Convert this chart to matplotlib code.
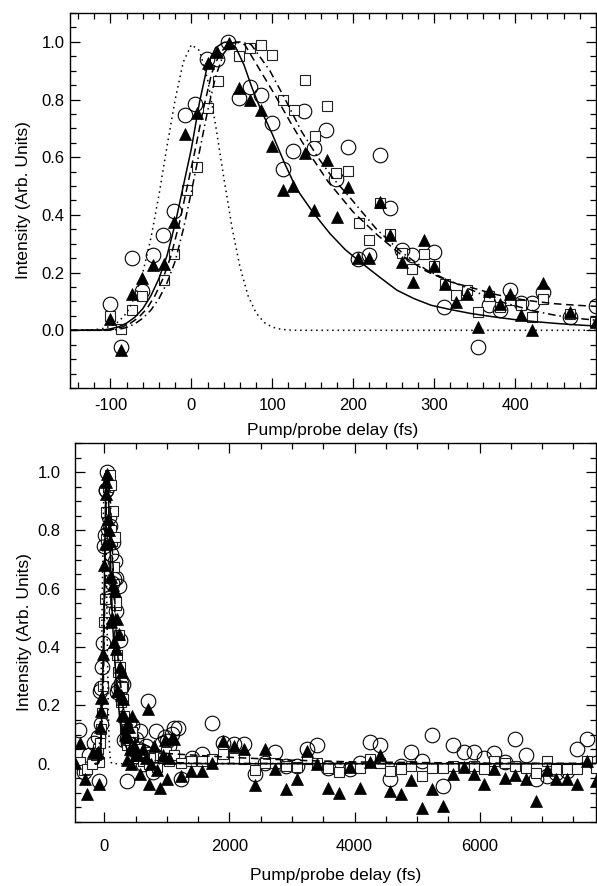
import matplotlib
matplotlib.use('Agg')
import matplotlib.pyplot as plt
from matplotlib.ticker import MultipleLocator

plt.rcParams['font.family'] = ['Liberation Sans', 'DejaVu Sans']
plt.rcParams['font.size'] = 12
plt.rcParams['axes.unicode_minus'] = False

# ---- short-delay scan (top panel, also part of bottom panel) ----
circ_x = [-101, -87, -74, -61, -48, -35, -21, -8, 5, 19, 32, 45, 59, 72, 86, 100,
          113, 126, 139, 152, 166, 179, 193, 206, 220, 233, 246, 260, 273, 300,
          312, 354, 368, 381, 394, 407, 421, 434, 468, 500]
circ_y = [0.09, -0.058, 0.25, 0.135, 0.26, 0.33, 0.415, 0.745, 0.785, 0.94, 0.94, 1.0,
          0.805, 0.845, 0.815, 0.72, 0.56, 0.62, 0.761, 0.632, 0.695, 0.524, 0.637,
          0.246, 0.261, 0.608, 0.423, 0.278, 0.261, 0.272, 0.081, -0.058, 0.087,
          0.07, 0.141, 0.093, 0.093, 0.133, 0.046, 0.083]

sq_x = [-101, -87, -74, -61, -34, -21, -6, 7, 20, 33, 59, 72, 86, 100, 113, 127,
        140, 153, 167, 179, 193, 207, 220, 233, 246, 260, 273, 287, 300, 314, 327,
        341, 354, 368, 381, 394, 407, 421, 434, 468, 499]
sq_y = [0.05, 0.005, 0.07, 0.12, 0.175, 0.265, 0.485, 0.565, 0.77, 0.865, 0.95, 0.98,
        0.99, 0.955, 0.80, 0.765, 0.867, 0.675, 0.776, 0.545, 0.553, 0.373, 0.313,
        0.443, 0.333, 0.267, 0.211, 0.264, 0.222, 0.162, 0.122, 0.139, 0.064, 0.12,
        0.081, 0.104, 0.087, 0.046, 0.107, 0.058, 0.029]

tri_x = [-101, -87, -74, -61, -48, -34, -21, -8, 7, 20, 32, 46, 59, 72, 86, 100,
         113, 126, 140, 152, 167, 180, 194, 206, 220, 233, 246, 260, 274, 288, 300,
         314, 327, 341, 354, 368, 381, 394, 407, 421, 434, 468, 500]
tri_y = [0.04, -0.07, 0.125, 0.18, 0.225, 0.23, 0.375, 0.68, 0.755, 0.925, 0.965,
         0.995, 0.84, 0.80, 0.765, 0.64, 0.485, 0.50, 0.614, 0.417, 0.591, 0.394,
         0.498, 0.249, 0.249, 0.446, 0.330, 0.237, 0.168, 0.313, 0.222, 0.162, 0.098,
         0.127, 0.012, 0.136, 0.09, 0.127, 0.052, 0.0, 0.165, 0.064, 0.029]

# ---- long-delay scan (extra points, bottom panel only) ----
circ_long_x = [-414, -330, -250, -170, 530, 575, 620, 665, 697, 740, 785, 830, 875,
               920, 965, 1003, 1040, 1074, 1110, 1180, 1217, 1394, 1566, 1727, 1903,
               2075, 2236, 2408, 2574, 2735, 2906, 3074, 3238, 3407, 3577, 3751, 3921,
               4079, 4249, 4413, 4571, 4741, 4910, 5085, 5243, 5413, 5577, 5746, 5905,
               6063, 6233, 6407, 6566, 6741, 6899, 7069, 7228, 7397, 7556, 7720, 7862]
circ_long_y = [0.117, -0.03, 0.03, 0.07, 0.05, 0.112, 0.0, 0.06, 0.215, 0.03, -0.03,
               0.112, 0.02, 0.07, 0.09, 0.078, 0.06, 0.101, 0.124, 0.124, -0.054, 0.02,
               0.032, 0.141, 0.072, 0.066, 0.066, -0.037, 0.003, 0.04, -0.008, -0.008,
               0.049, 0.063, -0.014, -0.019, -0.017, 0.003, 0.074, 0.063, -0.054, -0.008,
               0.04, 0.009, 0.097, -0.077, 0.063, 0.04, 0.04, 0.021, 0.038, 0.006, 0.084,
               0.029, -0.054, -0.042, -0.031, -0.025, 0.052, 0.086, 0.003]

sq_long_x = [-472, -391, -330, -273, -200, -140, 530, 575, 620, 665, 710, 755, 800,
             845, 890, 935, 980, 1025, 1070, 1110, 1217, 1389, 1566, 1727, 1903, 2075,
             2236, 2408, 2574, 2735, 2906, 3074, 3238, 3407, 3577, 3751, 3921, 4079,
             4249, 4413, 4571, 4741, 4910, 5085, 5243, 5413, 5577, 5746, 5905, 6063,
             6233, 6407, 6566, 6741, 6899, 7069, 7228, 7397, 7556, 7720, 7862]
sq_long_y = [0.003, 0.005, -0.02, -0.017, 0.0, 0.03, 0.02, 0.05, 0.01, 0.04, 0.0, 0.03,
             0.02, -0.01, 0.03, 0.02, 0.04, 0.01, 0.02, 0.03, 0.003, 0.01, 0.01, 0.015,
             0.032, 0.02, 0.015, -0.02, 0.003, 0.003, -0.008, -0.01, 0.015, 0.003,
             -0.014, -0.029, -0.01, -0.014, 0.015, 0.003, -0.025, -0.017, -0.008, -0.042,
             -0.014, -0.014, -0.008, -0.01, -0.008, -0.019, 0.009, 0.003, -0.008, -0.014,
             -0.031, 0.009, -0.017, -0.019, -0.019, 0.009, -0.014]

tri_long_x = [-472, -391, -311, -273, -190, -123, 530, 575, 620, 665, 697, 720, 750,
              795, 840, 885, 930, 965, 1003, 1040, 1074, 1110, 1217, 1389, 1566, 1727,
              1903, 2075, 2236, 2408, 2574, 2735, 2906, 3074, 3238, 3407, 3577, 3751,
              3921, 4079, 4249, 4413, 4571, 4741, 4910, 5085, 5243, 5413, 5577, 5746,
              5905, 6063, 6233, 6407, 6566, 6741, 6899, 7069, 7228, 7397, 7556, 7720, 7862]
tri_long_y = [0.003, 0.07, -0.054, -0.103, 0.04, 0.038, 0.03, -0.037, 0.05, 0.02,
              0.187, -0.071, 0.0, 0.06, -0.02, -0.082, 0.03, 0.08, -0.054, 0.02, 0.088,
              0.084, -0.042, -0.025, -0.025, 0.003, 0.078, 0.061, 0.049, -0.074, 0.049,
              -0.019, -0.088, -0.054, 0.044, -0.002, -0.082, -0.1, -0.01, -0.082, 0.006,
              0.029, -0.092, -0.105, -0.056, -0.151, -0.086, -0.145, -0.034, -0.01,
              -0.037, -0.071, -0.019, -0.048, -0.04, -0.054, -0.128, -0.022, -0.054,
              -0.052, -0.071, 0.009, -0.06]

# ---- fitted curves, sampled off the figure ----
solid_x = [-150, -110, -100, -90, -80, -70, -60, -50, -40, -30, -20, -10, 0, 10, 20,
           30, 40, 47, 55, 65, 75, 85, 100, 115, 130, 150, 171, 190, 206, 230, 254,
           275, 296, 320, 346, 375, 400, 425, 450, 475, 500]
solid_y = [0.0, 0.001, 0.005, 0.012, 0.025, 0.045, 0.075, 0.12, 0.18, 0.26, 0.37, 0.5,
           0.63, 0.79, 0.92, 0.98, 0.998, 1.0, 0.98, 0.92, 0.84, 0.77, 0.68, 0.58,
           0.49, 0.41, 0.336, 0.28, 0.243, 0.19, 0.139, 0.11, 0.087, 0.072, 0.058,
           0.046, 0.037, 0.03, 0.024, 0.019, 0.015]

dash_x = [-150, -105, -95, -85, -75, -65, -55, -45, -35, -25, -15, -5, 5, 15, 25, 35,
          45, 55, 66, 82, 103, 124, 144, 169, 200, 230, 260, 290, 320, 350, 375, 400,
          425, 450, 475, 500]
dash_y = [0.0, 0.0, 0.004, 0.012, 0.025, 0.045, 0.075, 0.12, 0.18, 0.26, 0.37, 0.5,
          0.63, 0.77, 0.89, 0.96, 0.99, 1.0, 0.99, 0.915, 0.817, 0.713, 0.62, 0.515,
          0.41, 0.33, 0.26, 0.205, 0.168, 0.145, 0.125, 0.11, 0.1, 0.092, 0.087, 0.083]

dashdot_x = [-150, -100, -90, -80, -70, -60, -50, -40, -30, -20, -10, 0, 10, 20, 30,
             40, 50, 60, 74, 97, 117, 136, 157, 175, 196, 229, 260, 290, 312, 346, 375,
             400, 425, 450, 475, 500]
dashdot_y = [0.0, 0.0, 0.003, 0.01, 0.022, 0.042, 0.07, 0.11, 0.165, 0.24, 0.35, 0.48,
             0.62, 0.76, 0.88, 0.96, 0.995, 1.0, 0.99, 0.9, 0.795, 0.69, 0.597, 0.527,
             0.46, 0.35, 0.27, 0.21, 0.18, 0.14, 0.105, 0.085, 0.066, 0.052, 0.042, 0.035]

dot_x = [-150, -120, -110, -100, -90, -80, -70, -60, -50, -40, -30, -20, -10, 0, 10,
         20, 30, 40, 50, 60, 70, 80, 90, 100, 110, 120, 130, 500]
dot_y = [0.0, 0.002, 0.006, 0.014, 0.03, 0.06, 0.115, 0.2, 0.32, 0.47, 0.64, 0.8, 0.93,
         0.99, 0.97, 0.87, 0.71, 0.53, 0.36, 0.22, 0.12, 0.06, 0.027, 0.011, 0.004,
         0.001, 0.0, 0.0]

# long-delay tails of the same fits (bottom panel)
solid_tail_x = [600, 800, 1000, 2000, 7900]
solid_tail_y = [0.008, 0.003, 0.001, 0.0, 0.0]
dash_tail_x = [600, 800, 1000, 2000, 3000, 4000, 6000, 7900]
dash_tail_y = [0.07, 0.05, 0.035, 0.022, 0.012, 0.006, 0.002, 0.001]
dashdot_tail_x = [600, 800, 1000, 1500, 7900]
dashdot_tail_y = [0.022, 0.01, 0.005, 0.001, 0.0]
dot_tail_x = [7900]
dot_tail_y = [0.0]

top_xticks = [-100, 0, 100, 200, 300, 400]
top_xlabels = ['-100', '0', '100', '200', '300', '400']
y_ticks = [0.0, 0.2, 0.4, 0.6, 0.8, 1.0]
top_ylabels = ['0.0', '0.2', '0.4', '0.6', '0.8', '1.0']
bot_ylabels = ['0.', '0.2', '0.4', '0.6', '0.8', '1.0']


def draw(ax, cx, cy, sx, sy, tx, ty, curves):
    ax.plot(cx, cy, 'o', ms=10.5, mfc='none', mec='black', mew=0.8, zorder=2)
    ax.plot(sx, sy, 's', ms=7.2, mfc='white', mec='#222222', mew=0.8, zorder=3)
    ax.plot(tx, ty, '^', ms=9, mfc='black', mec='black', mew=0.5, zorder=4)
    styles = ['-', (0, (5, 3)), (0, (5, 2.5, 1, 2.5)), (0, (1, 2.5))]
    for (x, y), ls in zip(curves, styles):
        ax.plot(x, y, color='black', lw=1.1, ls=ls, zorder=5)
    for side in ['top', 'right', 'bottom', 'left']:
        ax.spines[side].set_linewidth(1.0)
    ax.tick_params(which='both', direction='in', top=True, right=True, width=0.9)
    ax.tick_params(which='major', length=7)
    ax.tick_params(which='minor', length=4)
    ax.yaxis.set_minor_locator(MultipleLocator(0.05))
    ax.set_ylim(-0.2, 1.1)
    ax.set_ylabel('Intensity (Arb. Units)', fontsize=12.5)
    ax.set_xlabel('Pump/probe delay (fs)', fontsize=12.5)


fig = plt.figure(figsize=(5.97, 8.86), dpi=100)

# top panel
ax1 = fig.add_axes([70 / 597, 1 - 388 / 886, 526 / 597, 375 / 886])
draw(ax1, circ_x, circ_y, sq_x, sq_y, tri_x, tri_y,
     [(solid_x, solid_y), (dash_x, dash_y), (dashdot_x, dashdot_y), (dot_x, dot_y)])
ax1.set_xlim(-150, 500)
ax1.set_xticks(top_xticks)
ax1.set_xticklabels(top_xlabels)
ax1.xaxis.set_minor_locator(MultipleLocator(20))
ax1.set_yticks(y_ticks)
ax1.set_yticklabels(top_ylabels)
ax1.tick_params(axis='y', which='major', pad=4)
ax1.tick_params(axis='x', which='major', pad=7)
ax1.xaxis.set_label_coords(0.5, -0.093)
ax1.xaxis.label.set_verticalalignment('top')
ax1.yaxis.set_label_coords(-0.074, 0.5)

# bottom panel: short scan + long scan
ax2 = fig.add_axes([75 / 597, 1 - 822 / 886, 521 / 597, 379 / 886])
draw(ax2, circ_x + circ_long_x, circ_y + circ_long_y,
     sq_x + sq_long_x, sq_y + sq_long_y,
     tri_x + tri_long_x, tri_y + tri_long_y,
     [(solid_x + solid_tail_x, solid_y + solid_tail_y),
      (dash_x + dash_tail_x, dash_y + dash_tail_y),
      (dashdot_x + dashdot_tail_x, dashdot_y + dashdot_tail_y),
      (dot_x + dot_tail_x, dot_y + dot_tail_y)])
ax2.set_xlim(-470, 7860)
ax2.xaxis.set_major_locator(MultipleLocator(2000))
ax2.xaxis.set_minor_locator(MultipleLocator(500))
ax2.set_yticks(y_ticks)
ax2.set_yticklabels(bot_ylabels, ha='left')
ax2.tick_params(axis='y', which='major', pad=27)
ax2.tick_params(axis='x', which='major', pad=12)
ax2.xaxis.set_label_coords(0.5, -0.122)
ax2.xaxis.label.set_verticalalignment('top')
ax2.yaxis.set_label_coords(-0.082, 0.5)

fig.savefig('out.png', dpi=100)
